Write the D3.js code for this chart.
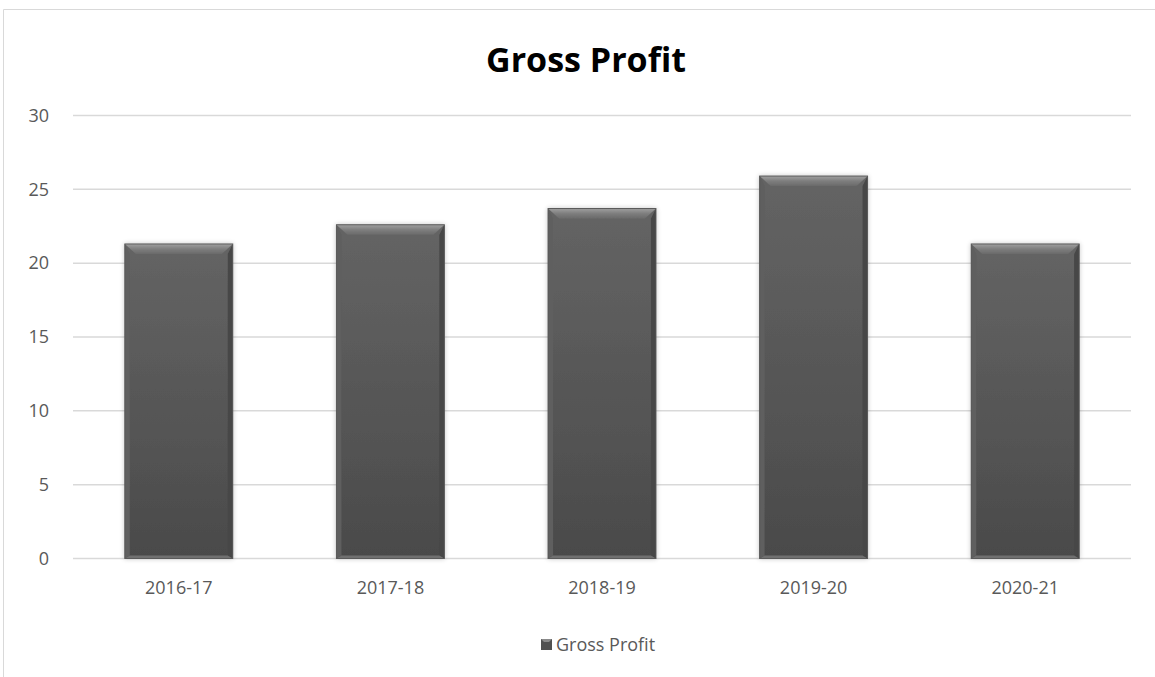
<!DOCTYPE html>
<html>
<head>
<meta charset="utf-8">
<script src="https://cdn.jsdelivr.net/npm/d3@7"></script>
<style>
  html, body { margin: 0; padding: 0; background: #fff; }
  svg { display: block; }
  text { font-family: "Open Sans", "Liberation Sans", sans-serif; }
</style>
</head>
<body>
<svg id="chart" width="1155" height="677"></svg>
<script>
// Gross profit by financial year
const categories = ["2016-17", "2017-18", "2018-19", "2019-20", "2020-21"];
const grossProfit = [21.3, 22.6, 23.7, 25.9, 21.3];
const yTicks = [0, 5, 10, 15, 20, 25, 30];
const seriesName = "Gross Profit";

const W = 1155, H = 677;
const margin = { left: 73, right: 24, top: 115.5, bottom: 118.5 };
const svg = d3.select("#chart");

// chart frame (top and left edges visible)
svg.append("path")
  .attr("d", `M3.5,${H} L3.5,9.5 L${W},9.5`)
  .attr("fill", "none").attr("stroke", "#d9d9d9").attr("stroke-width", 1);

const x = d3.scaleBand()
  .domain(categories)
  .range([margin.left, W - margin.right])
  .paddingInner(0.49).paddingOuter(0.245);

const y = d3.scaleLinear()
  .domain([0, 30])
  .range([H - margin.bottom, margin.top]);

// gridlines
svg.append("g").selectAll("line").data(yTicks).join("line")
  .attr("x1", margin.left).attr("x2", W - margin.right)
  .attr("y1", d => y(d)).attr("y2", d => y(d))
  .attr("stroke", "#d9d9d9").attr("stroke-width", 1.5);

// y axis labels
const yAxis = d3.axisLeft(y).tickValues(yTicks).tickSize(0).tickPadding(0);
const gy = svg.append("g").attr("transform", `translate(49,0)`).call(yAxis);
gy.select(".domain").remove();
gy.selectAll("text").attr("fill", "#595959").attr("font-size", 18)
  .attr("font-family", "'Open Sans', sans-serif");

// x axis labels
const xAxis = d3.axisBottom(x).tickSize(0).tickPadding(0);
const gx = svg.append("g").attr("transform", `translate(0,${y(0) + 23})`).call(xAxis);
gx.select(".domain").remove();
gx.selectAll("text").attr("fill", "#595959").attr("font-size", 18)
  .attr("font-family", "'Open Sans', sans-serif");

// gradients for the bevelled bars
const defs = svg.append("defs");
const body = defs.append("linearGradient").attr("id", "barBody")
  .attr("x1", 0).attr("y1", 0).attr("x2", 0).attr("y2", 1);
body.append("stop").attr("offset", "0%").attr("stop-color", "#646464");
body.append("stop").attr("offset", "100%").attr("stop-color", "#4a4a4a");

const topBevel = defs.append("linearGradient").attr("id", "topBevel")
  .attr("x1", 0).attr("y1", 0).attr("x2", 0).attr("y2", 1);
topBevel.append("stop").attr("offset", "0%").attr("stop-color", "#a0a0a0");
topBevel.append("stop").attr("offset", "50%").attr("stop-color", "#7e7e7e");
topBevel.append("stop").attr("offset", "100%").attr("stop-color", "#6a6a6a");

const shadow = defs.append("filter").attr("id", "soft")
  .attr("x", "-10%").attr("y", "-10%").attr("width", "120%").attr("height", "120%");
shadow.append("feGaussianBlur").attr("in", "SourceAlpha").attr("stdDeviation", 2.5).attr("result", "b");
shadow.append("feComponentTransfer").attr("in", "b").attr("result", "s")
  .append("feFuncA").attr("type", "linear").attr("slope", 0.22);
const merge = shadow.append("feMerge");
merge.append("feMergeNode").attr("in", "s");
merge.append("feMergeNode").attr("in", "SourceGraphic");

const bev = 10;   // bevel depth
const side = 5;   // side bevel width

const bars = svg.append("g").selectAll("g").data(categories).join("g")
  .attr("filter", "url(#soft)");

bars.each(function(c, i) {
  const g = d3.select(this);
  const x0 = x(c), x1 = x(c) + x.bandwidth();
  const yt = y(grossProfit[i]), yb = y(0);
  g.append("rect").attr("x", x0).attr("y", yt)
    .attr("width", x1 - x0).attr("height", yb - yt)
    .attr("fill", "url(#barBody)");
  // left and right bevels
  g.append("path")
    .attr("d", `M${x0},${yt} L${x0 + side},${yt + bev} L${x0 + side},${yb - 3} L${x0},${yb} Z`)
    .attr("fill", "#5e5e5e");
  g.append("path")
    .attr("d", `M${x1},${yt} L${x1 - side},${yt + bev} L${x1 - side},${yb - 3} L${x1},${yb} Z`)
    .attr("fill", "#464646");
  // bottom bevel
  g.append("path")
    .attr("d", `M${x0},${yb} L${x0 + side},${yb - 3} L${x1 - side},${yb - 3} L${x1},${yb} Z`)
    .attr("fill", "#707070");
  // top bevel
  g.append("path")
    .attr("d", `M${x0},${yt} L${x1},${yt} L${x1 - side - 6},${yt + bev} L${x0 + side + 6},${yt + bev} Z`)
    .attr("fill", "url(#topBevel)");
  g.append("rect").attr("x", x0).attr("y", yt)
    .attr("width", x1 - x0).attr("height", yb - yt)
    .attr("fill", "none").attr("stroke", "#5a5a5a").attr("stroke-width", 1);
});

// title
svg.append("text")
  .attr("x", 586).attr("y", 72)
  .attr("text-anchor", "middle")
  .attr("font-size", 34).attr("font-weight", "bold").attr("fill", "#000")
  .text("Gross Profit");

// legend
const lg = svg.append("g").attr("transform", "translate(541,639)");
lg.append("rect").attr("x", 0).attr("y", 0).attr("width", 11).attr("height", 11)
  .attr("fill", "#505050");
lg.append("path").attr("d", "M0,0 L11,0 L8,3 L3,3 Z").attr("fill", "#8a8a8a");
lg.append("text").attr("x", 15).attr("y", 12)
  .attr("font-size", 18).attr("fill", "#595959")
  .text(seriesName);
</script>
</body>
</html>
